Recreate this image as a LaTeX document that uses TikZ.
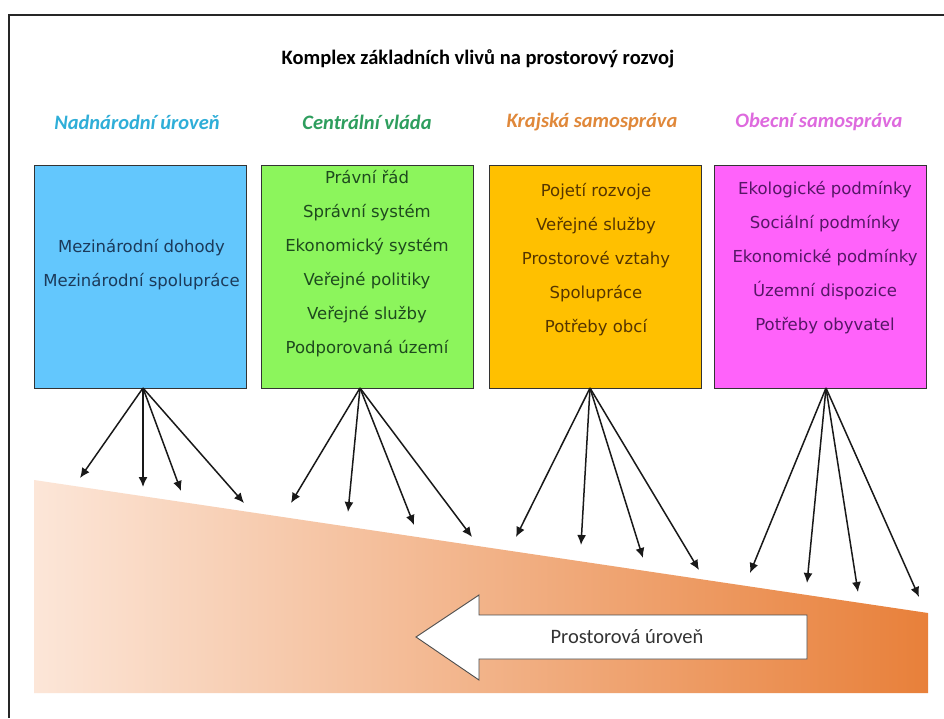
\documentclass[tikz,border=0pt]{standalone}
\usepackage{fontspec}
\setmainfont{Carlito}
\newfontfamily\boxfont{DejaVu Sans}
\usetikzlibrary{arrows.meta}
\definecolor{hblue}{HTML}{2FAED8}
\definecolor{hgreen}{HTML}{2E9E5E}
\definecolor{horange}{HTML}{E0883A}
\definecolor{hmagenta}{HTML}{DE6ADE}
\definecolor{fblue}{HTML}{63C7FD}
\definecolor{fgreen}{HTML}{8CF55C}
\definecolor{forange}{HTML}{FFC000}
\definecolor{fmagenta}{HTML}{FF62FA}
\definecolor{tblue}{HTML}{1C3A5A}
\definecolor{tgreen}{HTML}{1E4A1E}
\definecolor{torange}{HTML}{553500}
\definecolor{tmagenta}{HTML}{561766}
\definecolor{peachL}{HTML}{FCE6D8}
\definecolor{peachM}{HTML}{F5C9AE}
\definecolor{peachR}{HTML}{E8803A}
\begin{document}
\begin{tikzpicture}[x=1pt,y=-1pt,
  infobox/.style={draw=black!80, line width=0.9pt, minimum width=212pt, minimum height=223pt, inner sep=0pt},
  boxtext/.style={align=center, font=\boxfont\fontsize{16.5}{34}\selectfont, inner sep=0pt},
  header/.style={font=\bfseries\itshape\fontsize{20.5}{22}\selectfont, inner sep=0pt},
  influence/.style={-{Latex[length=10pt,width=9pt]}, line width=1.5pt, draw=black!90},
]
\useasboundingbox (0,0) rectangle (944,718);
\fill[white] (0,0) rectangle (944,718);
% frame
\draw[line width=1.2pt, black!85] (9,718) -- (9,15) -- (944,15);

% title and headers
\node[font=\bfseries\fontsize{20.5}{22}\selectfont, inner sep=0pt] (title) at (478,59) {Komplex základních vlivů na prostorový rozvoj};
\node[header, text=hblue] (h1) at (137,122) {Nadnárodní úroveň};
\node[header, text=hgreen] (h2) at (367,122) {Centrální vláda};
\node[header, text=horange] (h3) at (592,122) {Krajská samospráva};
\node[header, text=hmagenta] (h4) at (819,122) {Obecní samospráva};

% gradient wedge
\shade[left color=peachL, middle color=peachM, right color=peachR] (34,480) -- (928,613) -- (928,693) -- (34,693) -- cycle;

% boxes
\node[infobox, fill=fblue] (b1) at (140.5,276.5) {};
\node[infobox, fill=fgreen] (b2) at (367,276.5) {};
\node[infobox, fill=forange] (b3) at (595,276.5) {};
\node[infobox, fill=fmagenta] (b4) at (820.5,276.5) {};

\node[boxtext, text=tblue] (t1) at (141.5,265) {Mezinárodní dohody\\Mezinárodní spolupráce};
\node[boxtext, text=tgreen] (t2) at (367,264) {Právní řád\\Správní systém\\Ekonomický systém\\Veřejné politiky\\Veřejné služby\\Podporovaná území};
\node[boxtext, text=torange] (t3) at (596,260) {Pojetí rozvoje\\Veřejné služby\\Prostorové vztahy\\Spolupráce\\Potřeby obcí};
\node[boxtext, text=tmagenta] (t4) at (825,257.5) {Ekologické podmínky\\Sociální podmínky\\Ekonomické podmínky\\Územní dispozice\\Potřeby obyvatel};

% sources and targets
\coordinate (s1) at (143,388);
\coordinate (s2) at (360,388);
\coordinate (s3) at (590,388);
\coordinate (s4) at (826,388);

\coordinate (e11) at (80,478);  \coordinate (e12) at (143,487); \coordinate (e13) at (181,491); \coordinate (e14) at (244,503);
\coordinate (e21) at (291,503); \coordinate (e22) at (348,512); \coordinate (e23) at (414,525); \coordinate (e24) at (472,537);
\coordinate (e31) at (516,537); \coordinate (e32) at (581,545); \coordinate (e33) at (643,558); \coordinate (e34) at (699,570);
\coordinate (e41) at (750,573); \coordinate (e42) at (807,583); \coordinate (e43) at (858,592); \coordinate (e44) at (919,597);

\foreach \i in {1,2,3,4}{
  \foreach \j in {1,2,3,4}{
    \draw[influence] (s\i) -- (e\i\j);
  }
}

% big arrow
\draw[fill=white, draw=black!70, line width=0.9pt] (416,637) -- (479,595) -- (479,615) -- (807,615) -- (807,659) -- (479,659) -- (479,680) -- cycle;
\node[font=\fontsize{20.5}{22}\selectfont, text=black!80, inner sep=0pt] (lvl) at (627,637) {Prostorová úroveň};
\end{tikzpicture}
\end{document}
